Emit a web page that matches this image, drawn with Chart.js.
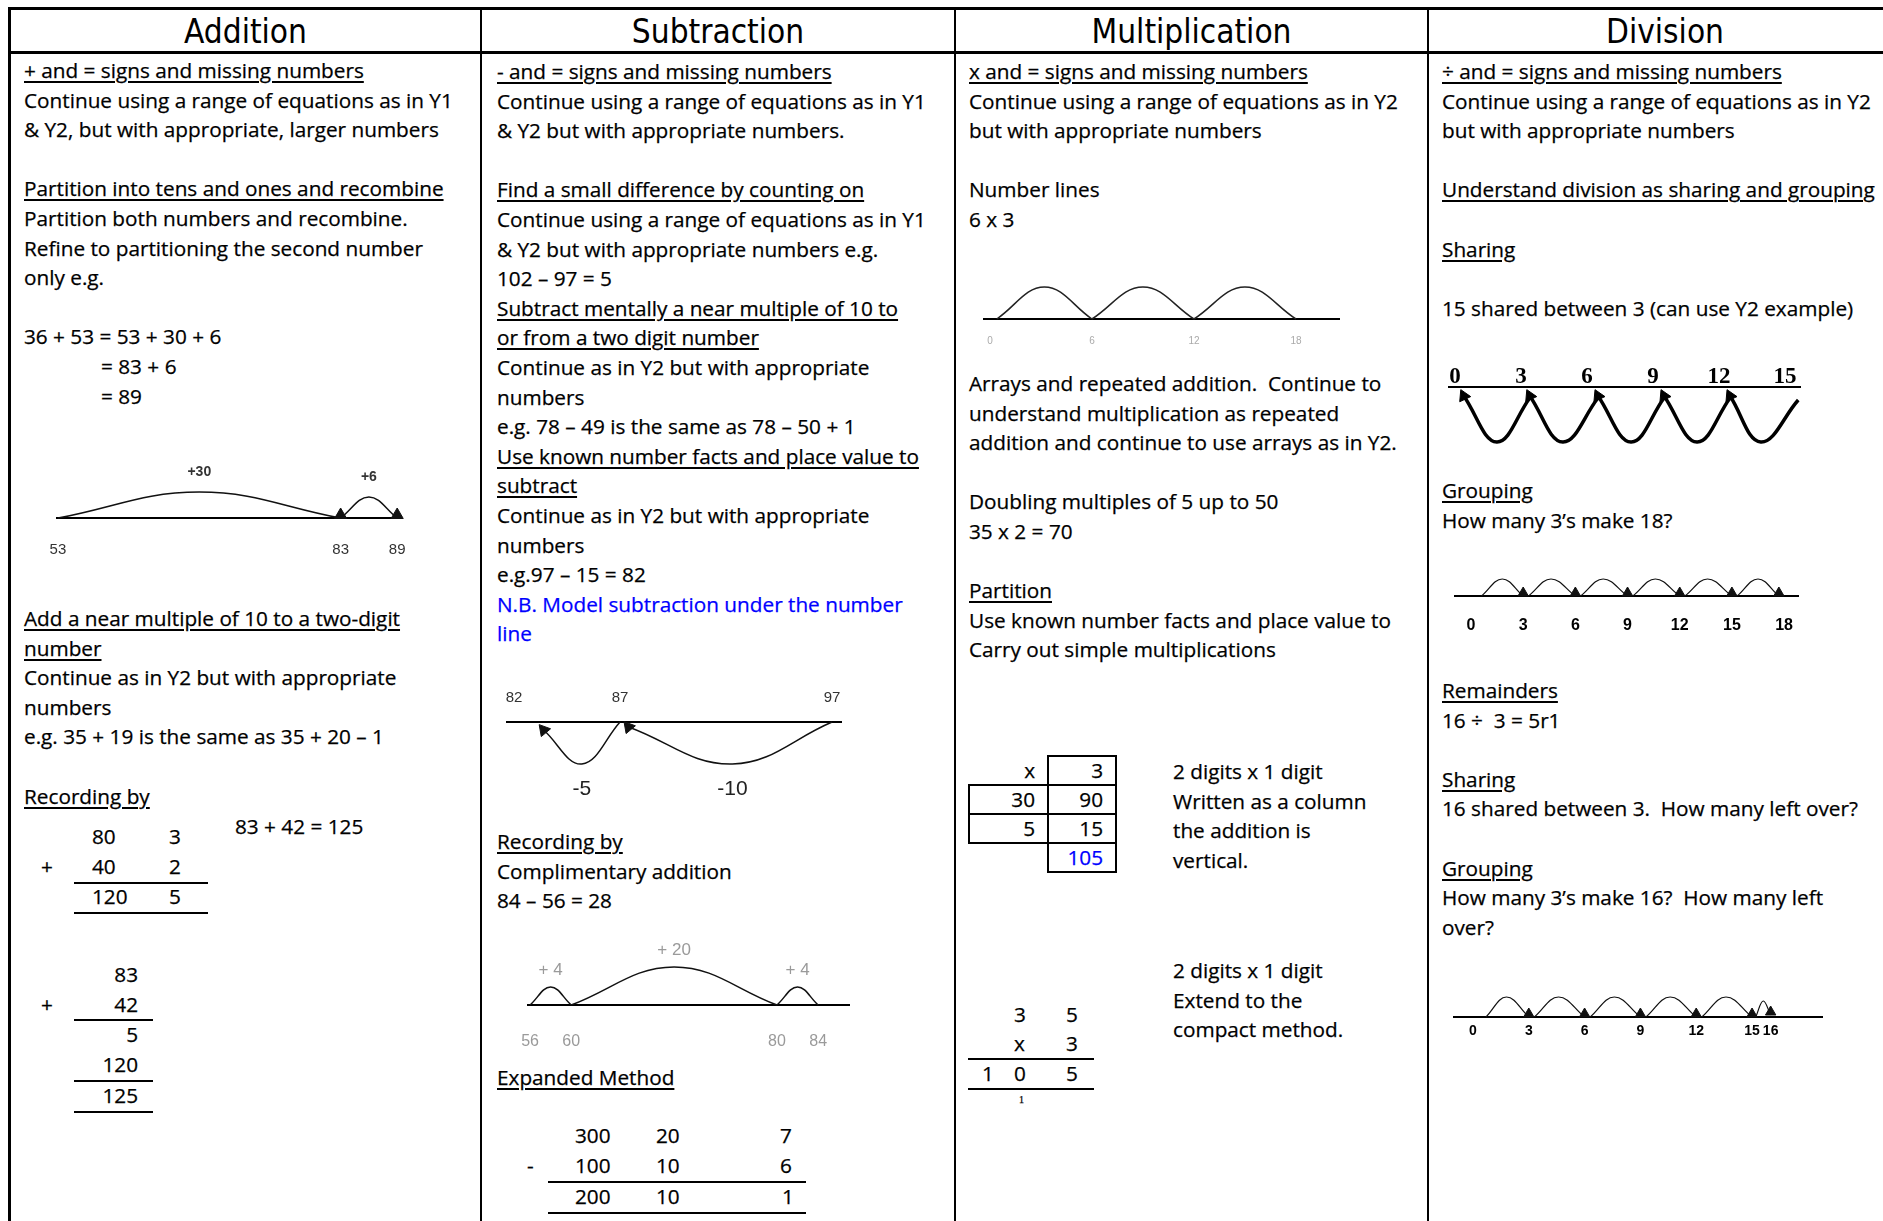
<!DOCTYPE html>
<html>
<head>
<meta charset="utf-8">
<script src="https://cdn.jsdelivr.net/npm/chart.js@4.4.1/dist/chart.umd.min.js"></script>
<style>
html, body { margin: 0; padding: 0; background: #fff; }
body { width: 1883px; height: 1221px; position: relative; overflow: hidden; color: #000;
       font-family: var(--body); font-size: var(--bs); }
.t { position: absolute; white-space: pre; line-height: 29.6px; -webkit-text-stroke: 0.25px #000; }
.u { text-decoration: underline; text-decoration-thickness: 1.5px; text-underline-offset: 3px; }
.blue { color: #0000ff; -webkit-text-stroke-color: #0000ff; }
.ln { position: absolute; background: #000; }
.hd { position: absolute; top: 10px; height: 44px; line-height: 44px; text-align: center;
      font-family: var(--head); font-size: var(--hs); }
.r { text-align: right; }
canvas { position: absolute; }
table.grid { position: absolute; left: 968px; top: 755px; border-collapse: collapse; -webkit-text-stroke: 0.25px #000; }
table.grid td { height: 27px; padding: 0 12px 0 0; text-align: right; line-height: 27px; border: 2px solid #000; }
table.grid td.nb { border: none; }
table.grid td.blue { -webkit-text-stroke-color: #0000ff; }
</style>
</head>
<body>

<!-- table frame -->
<div class="ln" style="left:8px;top:7px;width:1875px;height:3px"></div>
<div class="ln" style="left:8px;top:51px;width:1875px;height:3px"></div>
<div class="ln" style="left:8px;top:7px;width:3px;height:1214px"></div>
<div class="ln" style="left:480px;top:7px;width:2px;height:1214px"></div>
<div class="ln" style="left:954px;top:7px;width:2px;height:1214px"></div>
<div class="ln" style="left:1427px;top:7px;width:2px;height:1214px"></div>

<div class="hd" style="left:10px;width:471px">Addition</div>
<div class="hd" style="left:482px;width:472px">Subtraction</div>
<div class="hd" style="left:956px;width:471px">Multiplication</div>
<div class="hd" style="left:1429px;width:472px">Division</div>

<!-- Addition -->
<div class="t" style="left:24px;top:56px"><span class="u">+ and = signs and missing numbers</span>
Continue using a range of equations as in Y1
&amp; Y2, but with appropriate, larger numbers

<span class="u">Partition into tens and ones and recombine</span>
Partition both numbers and recombine.
Refine to partitioning the second number
only e.g.

36 + 53 = 53 + 30 + 6</div>
<div class="t" style="left:101px;top:352px">= 83 + 6
= 89</div>
<div class="t" style="left:24px;top:604px"><span class="u">Add a near multiple of 10 to a two-digit</span>
<span class="u">number</span>
Continue as in Y2 but with appropriate
numbers
e.g. 35 + 19 is the same as 35 + 20 – 1

<span class="u">Recording by</span></div>
<div class="t" style="left:235px;top:812px">83 + 42 = 125</div>
<div class="t" style="left:92px;top:822px">80</div>
<div class="t" style="left:169px;top:822px">3</div>
<div class="t" style="left:41px;top:852px">+</div>
<div class="t" style="left:92px;top:852px">40</div>
<div class="t" style="left:169px;top:852px">2</div>
<div class="ln" style="left:74px;top:882px;width:134px;height:2px"></div>
<div class="t" style="left:92px;top:882px">120</div>
<div class="t" style="left:169px;top:882px">5</div>
<div class="ln" style="left:74px;top:912px;width:134px;height:2px"></div>
<div class="t r" style="left:74px;width:64px;top:960px">83</div>
<div class="t" style="left:41px;top:990px">+</div>
<div class="t r" style="left:74px;width:64px;top:990px">42</div>
<div class="ln" style="left:74px;top:1019px;width:79px;height:2px"></div>
<div class="t r" style="left:74px;width:64px;top:1020px">5</div>
<div class="t r" style="left:74px;width:64px;top:1050px">120</div>
<div class="ln" style="left:74px;top:1080px;width:79px;height:2px"></div>
<div class="t r" style="left:74px;width:64px;top:1081px">125</div>
<div class="ln" style="left:74px;top:1111px;width:79px;height:2px"></div>

<!-- Subtraction -->
<div class="t" style="left:497px;top:57px"><span class="u">- and = signs and missing numbers</span>
Continue using a range of equations as in Y1
&amp; Y2 but with appropriate numbers.

<span class="u">Find a small difference by counting on</span>
Continue using a range of equations as in Y1
&amp; Y2 but with appropriate numbers e.g.
102 – 97 = 5
<span class="u">Subtract mentally a near multiple of 10 to</span>
<span class="u">or from a two digit number</span>
Continue as in Y2 but with appropriate
numbers
e.g. 78 – 49 is the same as 78 – 50 + 1
<span class="u">Use known number facts and place value to</span>
<span class="u">subtract</span>
Continue as in Y2 but with appropriate
numbers
e.g.97 – 15 = 82
<span class="blue">N.B. Model subtraction under the number</span>
<span class="blue">line</span></div>
<div class="t" style="left:497px;top:827px"><span class="u">Recording by</span>
Complimentary addition
84 – 56 = 28</div>
<div class="t" style="left:497px;top:1063px"><span class="u">Expanded Method</span></div>
<div class="t" style="left:575px;top:1121px">300</div>
<div class="t" style="left:656px;top:1121px">20</div>
<div class="t" style="left:780px;top:1121px">7</div>
<div class="t" style="left:527px;top:1151px">-</div>
<div class="t" style="left:575px;top:1151px">100</div>
<div class="t" style="left:656px;top:1151px">10</div>
<div class="t" style="left:780px;top:1151px">6</div>
<div class="ln" style="left:548px;top:1181px;width:258px;height:2px"></div>
<div class="t" style="left:575px;top:1182px">200</div>
<div class="t" style="left:656px;top:1182px">10</div>
<div class="t" style="left:782px;top:1182px">1</div>
<div class="ln" style="left:548px;top:1212px;width:258px;height:2px"></div>

<!-- Multiplication -->
<div class="t" style="left:969px;top:57px"><span class="u">x and = signs and missing numbers</span>
Continue using a range of equations as in Y2
but with appropriate numbers

Number lines
6 x 3</div>
<div class="t" style="left:969px;top:369px">Arrays and repeated addition.  Continue to
understand multiplication as repeated
addition and continue to use arrays as in Y2.

Doubling multiples of 5 up to 50
35 x 2 = 70

<span class="u">Partition</span>
Use known number facts and place value to
Carry out simple multiplications</div>
<table class="grid">
  <tr><td class="nb" style="width:66px">x</td><td style="width:54px">3</td></tr>
  <tr><td>30</td><td>90</td></tr>
  <tr><td>5</td><td>15</td></tr>
  <tr><td class="nb"></td><td class="blue">105</td></tr>
</table>
<div class="t" style="left:1173px;top:757px">2 digits x 1 digit
Written as a column
the addition is
vertical.</div>
<div class="t" style="left:1173px;top:956px">2 digits x 1 digit
Extend to the
compact method.</div>
<div class="t" style="left:1014px;top:1000px">3</div>
<div class="t" style="left:1066px;top:1000px">5</div>
<div class="t" style="left:1014px;top:1029px">x</div>
<div class="t" style="left:1066px;top:1029px">3</div>
<div class="ln" style="left:968px;top:1058px;width:126px;height:2px"></div>
<div class="t" style="left:982px;top:1059px">1</div>
<div class="t" style="left:1014px;top:1059px">0</div>
<div class="t" style="left:1066px;top:1059px">5</div>
<div class="ln" style="left:968px;top:1088px;width:126px;height:2px"></div>
<div class="t" style="left:1019px;top:1086px;font:10px 'Liberation Serif';line-height:28px;color:#000">1</div>

<!-- Division -->
<div class="t" style="left:1442px;top:57px"><span class="u">÷ and = signs and missing numbers</span>
Continue using a range of equations as in Y2
but with appropriate numbers

<span class="u">Understand division as sharing and grouping</span>

<span class="u">Sharing</span>

15 shared between 3 (can use Y2 example)</div>
<div class="t" style="left:1442px;top:476px"><span class="u">Grouping</span>
How many 3’s make 18?</div>
<div class="t" style="left:1442px;top:676px"><span class="u">Remainders</span>
16 ÷  3 = 5r1

<span class="u">Sharing</span>
16 shared between 3.  How many left over?

<span class="u">Grouping</span>
How many 3’s make 16?  How many left
over?</div>

<script>
// Addition: 36 + 53 as jumps on a number line
const addStops = [53, 83, 89];
const addJumps = [[[53, 0], [68, 26], [83, 0]], [[83, 0], [86, 21], [89, 0]]];
const addJumpText = ['+30', '+6'];

// Subtraction: 97 - 15 modelled under the line
const subStops = [82, 87, 97];
const subJumps = [[[87, 0], [85.2, -42], [83.4, -8]], [[97, 0], [92.3, -42], [87.4, -5]]];
const subJumpText = ['-5', '-10'];

// Complimentary addition 84 - 56
const compStops = [56, 60, 80, 84];
const compJumps = [[[56, 0], [58, 18], [60, 0]], [[60, 0], [70, 38], [80, 0]], [[80, 0], [82, 18], [84, 0]]];
const compJumpText = ['+ 4', '+ 20', '+ 4'];

// Multiplication 6 x 3
const multStops = [0, 6, 12, 18];
const multJumps = [[[0.4, 0], [3.2, 32], [6, 0]], [[6, 0], [9, 32], [12, 0]], [[12, 0], [15, 32], [18, 0]]];

// Division: sharing 15
const shareStops = [0, 3, 6, 9, 12, 15];
const shareJumps = [
  [[15.6, -13], [13.9, -55], [12.5, -9]],
  [[12.5, -11], [11, -55], [9.5, -9]],
  [[9.5, -11], [8, -55], [6.5, -9]],
  [[6.5, -11], [4.9, -55], [3.4, -9]],
  [[3.4, -11], [1.9, -55], [0.4, -9]]
];

// Division: grouping 18
const groupStops = [0, 3, 6, 9, 12, 15, 18];
const groupJumps = [
  [[0.6, 0], [1.8, 17], [3, 0]],
  [[3.3, 0], [4.6, 17], [6, 0]],
  [[6.3, 0], [7.6, 17], [9, 0]],
  [[9.3, 0], [10.6, 17], [12, 0]],
  [[12.3, 0], [13.6, 17], [15, 0]],
  [[15.3, 0], [16.5, 17], [17.7, 0]]
];

// Division: remainders 16
const remStops = [0, 3, 6, 9, 12, 15, 16];
const remJumps = [
  [[0.7, 0], [1.8, 20], [3, 0]],
  [[3.3, 0], [4.6, 20], [6, 0]],
  [[6.3, 0], [7.6, 20], [9, 0]],
  [[9.3, 0], [10.6, 20], [12, 0]],
  [[12.3, 0], [13.6, 20], [15, 0]],
  [[15.2, 0], [15.6, 16], [16, 2]]
];

// fit the substitute fonts to the widths of the original lines
const mc = document.createElement('canvas').getContext('2d');
function fitSize(family, sample, target) {
  mc.font = '100px ' + family;
  return 100 * target / mc.measureText(sample).width;
}
const BODY = '"Open Sans", "DejaVu Sans", sans-serif';
const HEAD = '"DejaVu Sans Condensed", "Liberation Sans Narrow", "DejaVu Sans", sans-serif';
const rootStyle = document.documentElement.style;
rootStyle.setProperty('--body', BODY);
rootStyle.setProperty('--bs', fitSize(BODY, 'Continue using a range of equations as in Y1', 429).toFixed(2) + 'px');
rootStyle.setProperty('--head', HEAD);
rootStyle.setProperty('--hs', fitSize(HEAD, 'Multiplication', 200).toFixed(2) + 'px');

function numberLine(c) {
  const P = 40, T = 8;
  const onTop = c.side === 'top';
  const w = c.right - c.left + 2 * P;
  const h = c.axisH + c.areaH + T;
  const cv = document.createElement('canvas');
  cv.width = w; cv.height = h;
  cv.style.width = w + 'px'; cv.style.height = h + 'px';
  cv.style.left = (c.left - P) + 'px';
  cv.style.top = (onTop ? c.lineY - c.axisH : c.lineY - c.areaH - T) + 'px';
  document.body.appendChild(cv);

  const sets = c.jumps.map(j => ({
    data: j.map(p => ({ x: p[0], y: p[1] })),
    borderColor: c.arcColor, borderWidth: c.arcW, tension: 0.4,
    pointRadius: 0, fill: false, clip: false
  }));
  if (c.arrow) sets.push({
    data: c.jumps.map(j => ({ x: j[2][0], y: j[2][1] + c.arrow.dy })),
    showLine: false, pointStyle: 'triangle', pointRadius: c.arrow.r, pointRotation: c.arrow.rot,
    backgroundColor: c.arcColor, borderColor: c.arcColor, borderWidth: 1, clip: false
  });

  const jumpLabels = {
    id: 'jumpLabels',
    afterDatasetsDraw(chart) {
      if (!c.texts) return;
      const { ctx, scales: { x, y } } = chart;
      ctx.save();
      ctx.font = c.textFont;
      ctx.fillStyle = c.textColor;
      ctx.textAlign = 'center';
      ctx.textBaseline = 'middle';
      c.jumps.forEach((j, i) => {
        ctx.fillText(c.texts[i], x.getPixelForValue(j[1][0]), y.getPixelForValue(j[1][1] + c.textDy));
      });
      ctx.restore();
    }
  };

  new Chart(cv, {
    type: 'line',
    data: { datasets: sets },
    plugins: [jumpLabels],
    options: {
      responsive: false, animation: false, devicePixelRatio: 1, events: [],
      layout: { padding: onTop ? { left: P, right: P, top: 0, bottom: T } : { left: P, right: P, top: T, bottom: 0 } },
      plugins: { legend: { display: false }, tooltip: { enabled: false } },
      scales: {
        x: {
          type: 'linear', position: c.side, min: c.min, max: c.max, bounds: 'data',
          afterBuildTicks: ax => { ax.ticks = c.stops.map(v => ({ value: v })); },
          afterFit: ax => { ax.height = c.axisH; },
          grid: { display: false, drawTicks: false },
          border: { display: true, color: '#000', width: c.lineW },
          ticks: { autoSkip: false, maxRotation: 0, minRotation: 0, padding: c.pad,
                   font: c.font, color: c.tickColor, callback: v => String(v) }
        },
        y: { display: false, min: onTop ? -c.areaH : 0, max: onTop ? 0 : c.areaH }
      }
    }
  });
}

const SANS = '"Liberation Sans", Arial, sans-serif';

numberLine({ stops: addStops, jumps: addJumps, texts: addJumpText,
  left: 57, right: 400, lineY: 518, min: 52.9, max: 89.3, side: 'bottom', areaH: 56, axisH: 40, pad: 23,
  font: { family: SANS, size: 15 }, tickColor: '#333', lineW: 2, arcW: 1.5, arcColor: '#111',
  textFont: 'bold 14px ' + SANS, textColor: '#333', textDy: 20, arrow: { r: 7, rot: 0, dy: 3 } });

numberLine({ stops: subStops, jumps: subJumps, texts: subJumpText,
  left: 507, right: 841, lineY: 722, min: 81.67, max: 97.42, side: 'top', areaH: 80, axisH: 40, pad: 15,
  font: { family: SANS, size: 15 }, tickColor: '#333', lineW: 2, arcW: 1.5, arcColor: '#111',
  textFont: '21px ' + SANS, textColor: '#222', textDy: -25, arrow: { r: 7, rot: -40, dy: 0 } });

numberLine({ stops: compStops, jumps: compJumps, texts: compJumpText,
  left: 528, right: 849, lineY: 1005, min: 55.8, max: 87.0, side: 'bottom', areaH: 60, axisH: 50, pad: 27,
  font: { family: SANS, size: 16 }, tickColor: '#9a9a9a', lineW: 2, arcW: 1.5, arcColor: '#111',
  textFont: '17px ' + SANS, textColor: '#9a9a9a', textDy: 17 });

numberLine({ stops: multStops, jumps: multJumps,
  left: 984, right: 1339, lineY: 319, min: -0.35, max: 20.53, side: 'bottom', areaH: 40, axisH: 30, pad: 16,
  font: { family: SANS, size: 10 }, tickColor: '#aaa', lineW: 2, arcW: 1.5, arcColor: '#222' });

numberLine({ stops: shareStops, jumps: shareJumps,
  left: 1449, right: 1800, lineY: 387, min: -0.27, max: 15.68, side: 'top', areaH: 62, axisH: 40, pad: -4,
  font: { family: '"Liberation Serif", serif', size: 23, weight: 'bold' }, tickColor: '#000', lineW: 2,
  arcW: 3.5, arcColor: '#000', arrow: { r: 7, rot: -25, dy: 0 } });

numberLine({ stops: groupStops, jumps: groupJumps,
  left: 1455, right: 1798, lineY: 596, min: -0.92, max: 18.8, side: 'bottom', areaH: 30, axisH: 40, pad: 20,
  font: { family: SANS, size: 16, weight: 'bold' }, tickColor: '#000', lineW: 2, arcW: 1.2, arcColor: '#111',
  arrow: { r: 6, rot: 0, dy: 3 } });

numberLine({ stops: remStops, jumps: remJumps,
  left: 1454, right: 1822, lineY: 1017, min: -1.02, max: 18.76, side: 'bottom', areaH: 30, axisH: 30, pad: 6,
  font: { family: SANS, size: 14, weight: 'bold' }, tickColor: '#000', lineW: 2, arcW: 1.2, arcColor: '#111',
  arrow: { r: 6, rot: 0, dy: 3 } });
</script>
</body>
</html>
